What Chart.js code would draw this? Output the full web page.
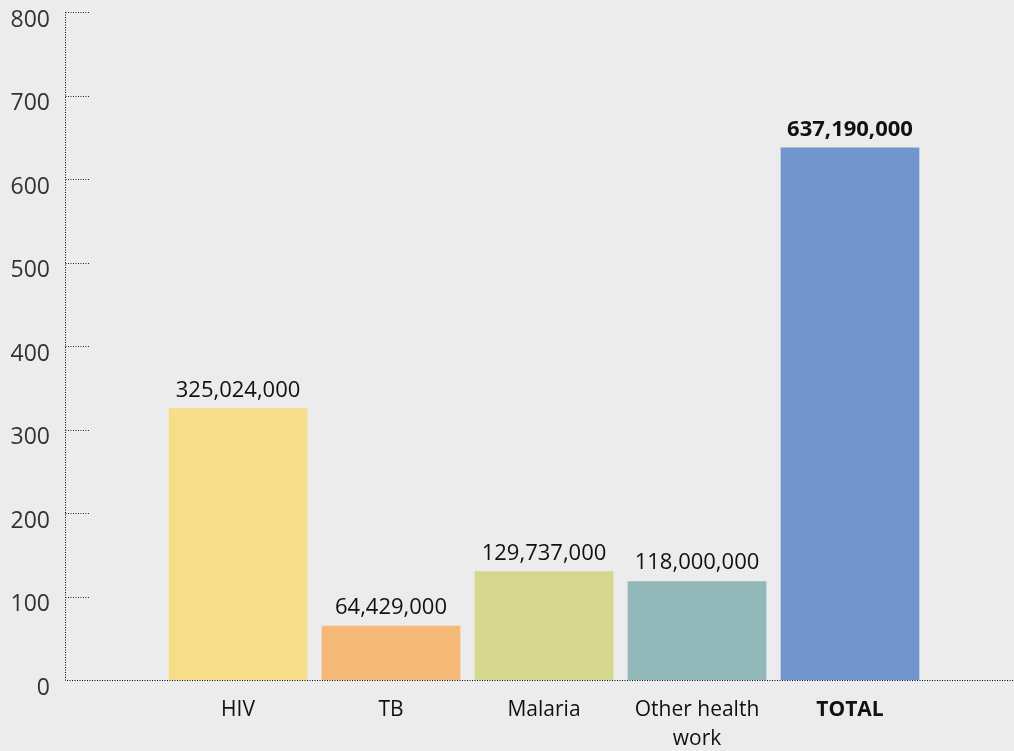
<!DOCTYPE html>
<html>
<head>
<meta charset="utf-8">
<script src="https://cdn.jsdelivr.net/npm/chart.js@4/dist/chart.umd.min.js"></script>
<style>
    html, body { margin: 0; padding: 0; background: #ececec; }
    #wrap { width: 1014px; height: 751px; }
</style>
</head>
<body>
<div id="wrap"><canvas id="fundingChart"></canvas></div>
<script>
const categories = ['HIV', 'TB', 'Malaria', ['Other health', 'work'], 'TOTAL'];
const fundingMillions = [325.024, 64.429, 129.737, 118.0, 637.19];
const barColors = ['#f5dd8a', '#f5b977', '#d5d78f', '#93b8b9', '#7295cd'];
const yTicks = [0, 100, 200, 300, 400, 500, 600, 700, 800];

const fontFamily = '"Open Sans", "Noto Sans", sans-serif';

// dotted axes, short stubs right of the y axis, value labels over bars
const decorations = {
    id: 'decorations',
    afterDatasetsDraw(chart) {
        const { ctx, chartArea, scales } = chart;
        const left = Math.round(chartArea.left) + 0.5;
        const bottom = Math.round(chartArea.bottom) + 0.5;
        ctx.save();
        ctx.strokeStyle = '#000';
        ctx.lineWidth = 1;
        ctx.setLineDash([1, 1.5]);
        ctx.beginPath();
        ctx.moveTo(left, Math.round(chartArea.top));
        ctx.lineTo(left, bottom);
        ctx.lineTo(chart.width, bottom);
        ctx.stroke();

        ctx.strokeStyle = '#222';
        scales.y.ticks.forEach((t) => {
            if (t.value === 0) return;
            const y = Math.round(scales.y.getPixelForValue(t.value)) + 0.5;
            ctx.beginPath();
            ctx.moveTo(left, y);
            ctx.lineTo(left + 25, y);
            ctx.stroke();
        });
        ctx.setLineDash([]);

        const meta = chart.getDatasetMeta(0);
        ctx.fillStyle = '#111';
        ctx.textAlign = 'center';
        ctx.textBaseline = 'alphabetic';
        meta.data.forEach((bar, i) => {
            const isTotal = i === fundingMillions.length - 1;
            ctx.font = (isTotal ? 'bold ' : '') + '22px ' + fontFamily;
            const text = Math.round(fundingMillions[i] * 1e6).toLocaleString('en-US');
            ctx.fillText(text, bar.x, bar.y - 12);
        });
        ctx.restore();
    },
};

new Chart(document.getElementById('fundingChart'), {
    type: 'bar',
    data: {
        datasets: [
            {
                data: fundingMillions.map((v, i) => ({ x: i + 1, y: v })),
                backgroundColor: barColors,
                barThickness: 138,
                borderWidth: 0,
            },
        ],
    },
    options: {
        responsive: true,
        maintainAspectRatio: false,
        animation: false,
        layout: { padding: 0 },
        scales: {
            x: {
                type: 'linear',
                offset: false,
                min: -0.131,
                max: 6.072,
                afterBuildTicks: (scale) => {
                    scale.ticks = categories.map((_, i) => ({ value: i + 1 }));
                },
                afterFit: (scale) => {
                    scale.height = 71;
                    scale.paddingLeft = 0;
                    scale.paddingRight = 0;
                },
                grid: { display: false, drawTicks: false },
                border: { display: false },
                ticks: {
                    padding: 16,
                    maxRotation: 0,
                    autoSkip: false,
                    color: '#111',
                    font: (ctx) => ({
                        family: fontFamily,
                        size: 21,
                        weight: ctx.tick && ctx.tick.value === categories.length ? 'bold' : 'normal',
                        lineHeight: 1.35,
                    }),
                    callback: (value) => categories[value - 1] ?? '',
                },
            },
            y: {
                min: 0,
                max: 800,
                afterBuildTicks: (scale) => {
                    scale.ticks = yTicks.map((v) => ({ value: v }));
                },
                afterFit: (scale) => {
                    scale.width = 65;
                    scale.paddingTop = 12;
                    scale.paddingBottom = 0;
                },
                grid: { display: false, drawTicks: false },
                border: { display: false },
                ticks: {
                    padding: 15,
                    labelOffset: 8,
                    color: '#333',
                    font: { family: fontFamily, size: 23, weight: 'normal' },
                },
            },
        },
        plugins: {
            legend: { display: false },
            tooltip: { enabled: false },
        },
    },
    plugins: [decorations],
});
</script>
</body>
</html>
